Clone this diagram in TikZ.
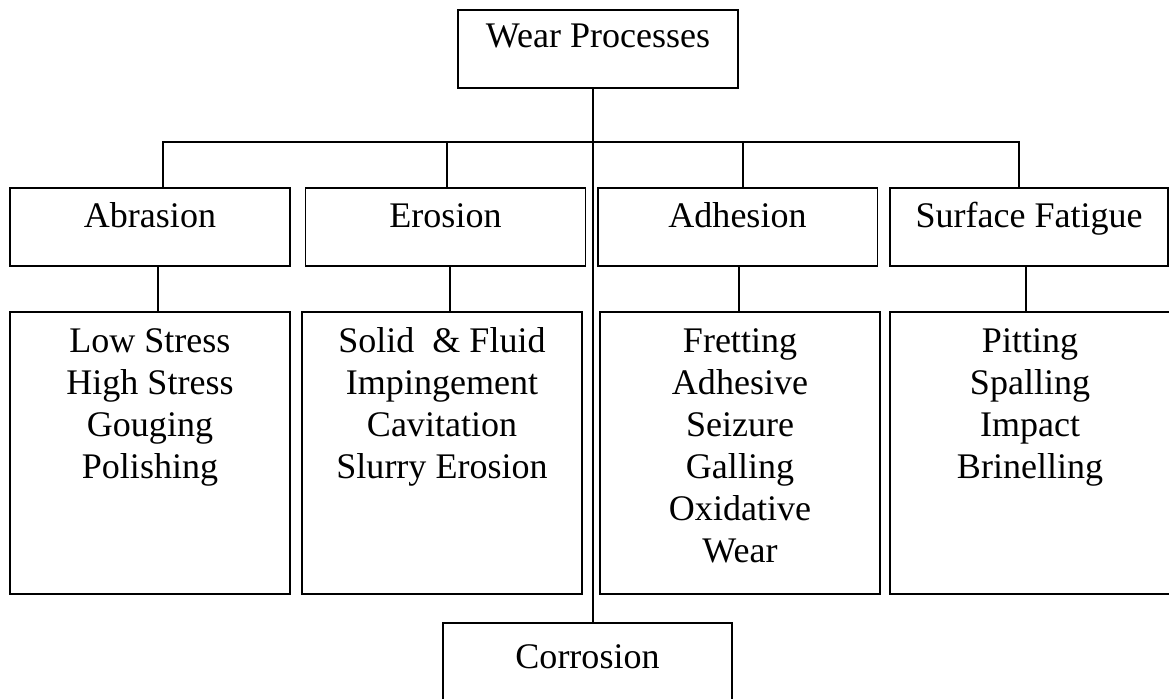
\documentclass[tikz,border=0pt]{standalone}
\usepackage{fontspec}
\setmainfont{Liberation Serif}

\begin{document}
\begin{tikzpicture}[x=0.02cm,y=-0.02cm,
  font=\fontsize{20.5}{23.9}\selectfont,
  box/.style={draw,line width=1.1pt,inner sep=0pt,anchor=north,minimum width=5.6cm},
  headbox/.style={box,text height=0.8cm,text depth=0.76cm},
  listbox/.style={box,text width=5.6cm,align=flush center,text height=0.82cm,text depth=4.82cm},
  link/.style={line width=1.2pt}]
  \useasboundingbox (0,0) rectangle (1169,698);
  \node[box,text height=0.76cm,text depth=0.8cm] (wear) at (598,9) {Wear Processes};
  \coordinate (bus) at (593,142);
  \node[headbox] (abr) at (150,187) {Abrasion};
  \node[headbox] (ero) at (445.5,187) {Erosion};
  \node[headbox] (adh) at (737.5,187) {Adhesion};
  \node[headbox,minimum width=5.56cm] (surf) at (1029,187) {Surface Fatigue};
  \node[listbox] (abrlist) at (150,311) {Low Stress\\High Stress\\Gouging\\Polishing};
  \node[listbox] (erolist) at (442,311) {Solid\ \ \& Fluid\\Impingement\\Cavitation\\Slurry Erosion};
  \node[listbox] (adhlist) at (740,311) {Fretting\\Adhesive\\Seizure\\Galling\\Oxidative\\Wear};
  \node[listbox,text width=5.52cm] (surflist) at (1030,311) {Pitting\\Spalling\\Impact\\Brinelling};
  \node[box,minimum width=5.78cm,text height=0.92cm,text depth=1.04cm] (corr) at (587.5,622) {Corrosion};
  \draw[link] (wear.south -| bus) -- (corr.north -| bus);
  \draw[link] ([xshift=0.26cm]abr.north) |- (bus) -| ([xshift=-0.2cm]surf.north);
  \draw[link] ([xshift=0.03cm]ero.north) -- ([xshift=0.03cm]ero.north |- bus);
  \draw[link] ([xshift=0.11cm]adh.north) -- ([xshift=0.11cm]adh.north |- bus);
  \draw[link] ([xshift=0.16cm]abrlist.north) -- ([xshift=0.16cm]abrlist.north |- abr.south);
  \draw[link] ([xshift=0.16cm]erolist.north) -- ([xshift=0.16cm]erolist.north |- ero.south);
  \draw[link] ([xshift=-0.02cm]adhlist.north) -- ([xshift=-0.02cm]adhlist.north |- adh.south);
  \draw[link] ([xshift=-0.08cm]surflist.north) -- ([xshift=-0.08cm]surflist.north |- surf.south);
\end{tikzpicture}
\end{document}
